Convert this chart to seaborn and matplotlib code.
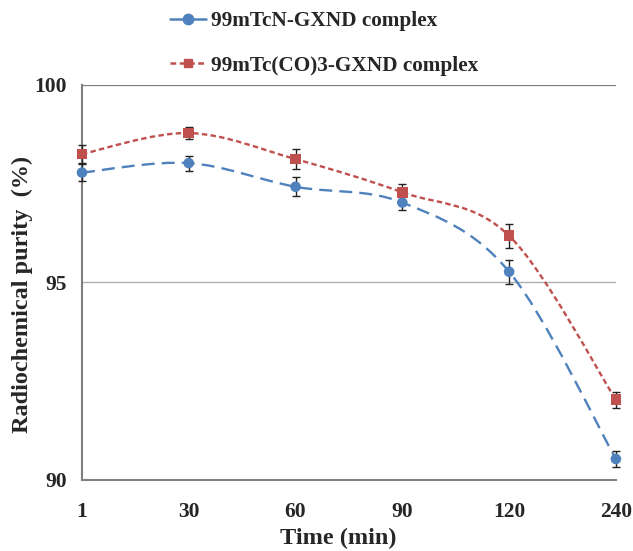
import numpy as np
import pandas as pd
import matplotlib
matplotlib.use("Agg")
import matplotlib.pyplot as plt
import seaborn as sns
from matplotlib.path import Path
from matplotlib.patches import PathPatch
from matplotlib.lines import Line2D

# data
times = ["1", "30", "60", "90", "120", "240"]
tcn_purity = [97.78, 98.02, 97.42, 97.02, 95.27, 90.53]
tcn_err = [0.22, 0.19, 0.24, 0.2, 0.3, 0.21]
tcco_purity = [98.25, 98.78, 98.12, 97.28, 96.18, 92.03]
tcco_err = [0.22, 0.16, 0.25, 0.2, 0.3, 0.2]
series_names = ["99mTcN-GXND complex", "99mTc(CO)3-GXND complex"]

BLUE = "#4F81BD"
RED = "#C0504D"

sns.set_style("white")
plt.rcParams["font.family"] = ["Liberation Serif", "DejaVu Serif"]
plt.rcParams["font.weight"] = "bold"


def smooth_path(xs, ys):
    # Excel-style smoothed line: Catmull-Rom segments as cubic Beziers
    pts = np.column_stack([xs, ys]).astype(float)
    ext = np.vstack([pts[0], pts, pts[-1]])
    verts = [pts[0]]
    codes = [Path.MOVETO]
    for i in range(len(pts) - 1):
        p0, p1, p2, p3 = ext[i], ext[i + 1], ext[i + 2], ext[i + 3]
        c1 = p1 + (p2 - p0) / 6.0
        c2 = p2 - (p3 - p1) / 6.0
        verts += [c1, c2, p2]
        codes += [Path.CURVE4] * 3
    return Path(verts, codes)


df = pd.DataFrame({
    "pos": list(range(len(times))) * 2,
    "purity": tcn_purity + tcco_purity,
    "err": tcn_err + tcco_err,
    "series": [series_names[0]] * len(times) + [series_names[1]] * len(times),
})

fig = plt.figure(figsize=(6.33, 5.51), dpi=100)
ax = fig.add_axes([0.1295, 0.129, 0.8435, 0.717])

styles = {
    series_names[0]: dict(color=BLUE, marker="o", ms=7.5, dash=(0, (5.5, 3.0))),
    series_names[1]: dict(color=RED, marker="s", ms=6.0, dash=(0, (2.3, 1.4))),
}

for name, st in styles.items():
    sub = df[df["series"] == name]
    ax.add_patch(PathPatch(smooth_path(sub["pos"], sub["purity"]), fill=False,
                           edgecolor=st["color"], lw=1.7, linestyle=st["dash"],
                           zorder=2, clip_on=False))
    ax.errorbar(sub["pos"], sub["purity"], yerr=sub["err"], fmt="none",
                ecolor="#222222", elinewidth=1.0, capsize=3.2, capthick=1.0,
                zorder=3, clip_on=False)

sns.scatterplot(data=df, x="pos", y="purity", hue="series", style="series",
                palette={k: v["color"] for k, v in styles.items()},
                markers={k: v["marker"] for k, v in styles.items()},
                s=58, edgecolor="none", legend=False, ax=ax, zorder=4,
                clip_on=False)

ax.set_xlim(0, len(times) - 1)
ax.set_ylim(90, 100)
ax.set_xticks(range(len(times)))
ax.set_xticklabels(times)
ax.set_yticks([90, 95, 100])
ax.yaxis.grid(True, color="#b0b0b0", lw=1.0)
ax.set_axisbelow(True)

for side in ["top", "right"]:
    ax.spines[side].set_visible(False)
for side in ["left", "bottom"]:
    ax.spines[side].set_color("#808080")
    ax.spines[side].set_linewidth(1.5)
ax.axhline(100, color="#707070", lw=1.2, zorder=1)

ax.tick_params(axis="both", direction="out", length=4, width=1.2,
               color="#808080", labelsize=15.5)
ax.tick_params(axis="y", pad=7)
ax.tick_params(axis="x", pad=12)
for lab in ax.get_xticklabels() + ax.get_yticklabels():
    lab.set_fontweight("bold")

ax.set_xlabel("Time (min)", fontsize=17.5, fontweight="bold")
ax.set_ylabel("Radiochemical purity  (%)", fontsize=17.5, fontweight="bold")
ax.xaxis.set_label_coords(0.48, -0.122)
ax.yaxis.set_label_coords(-0.092, 0.47)

handles = [
    Line2D([], [], color=BLUE, lw=1.8, marker="o", ms=7.5, linestyle="-"),
    Line2D([], [], color=RED, lw=1.8, marker="s", ms=6.0,
           linestyle=(0, (2.3, 1.4))),
]
fig.legend(handles, series_names, loc="upper left",
           bbox_to_anchor=(0.238, 1.014), frameon=False,
           prop={"weight": "bold", "size": 15.3}, labelspacing=1.15,
           handlelength=1.7, handletextpad=0.25)

fig.savefig("out.png", dpi=100)
